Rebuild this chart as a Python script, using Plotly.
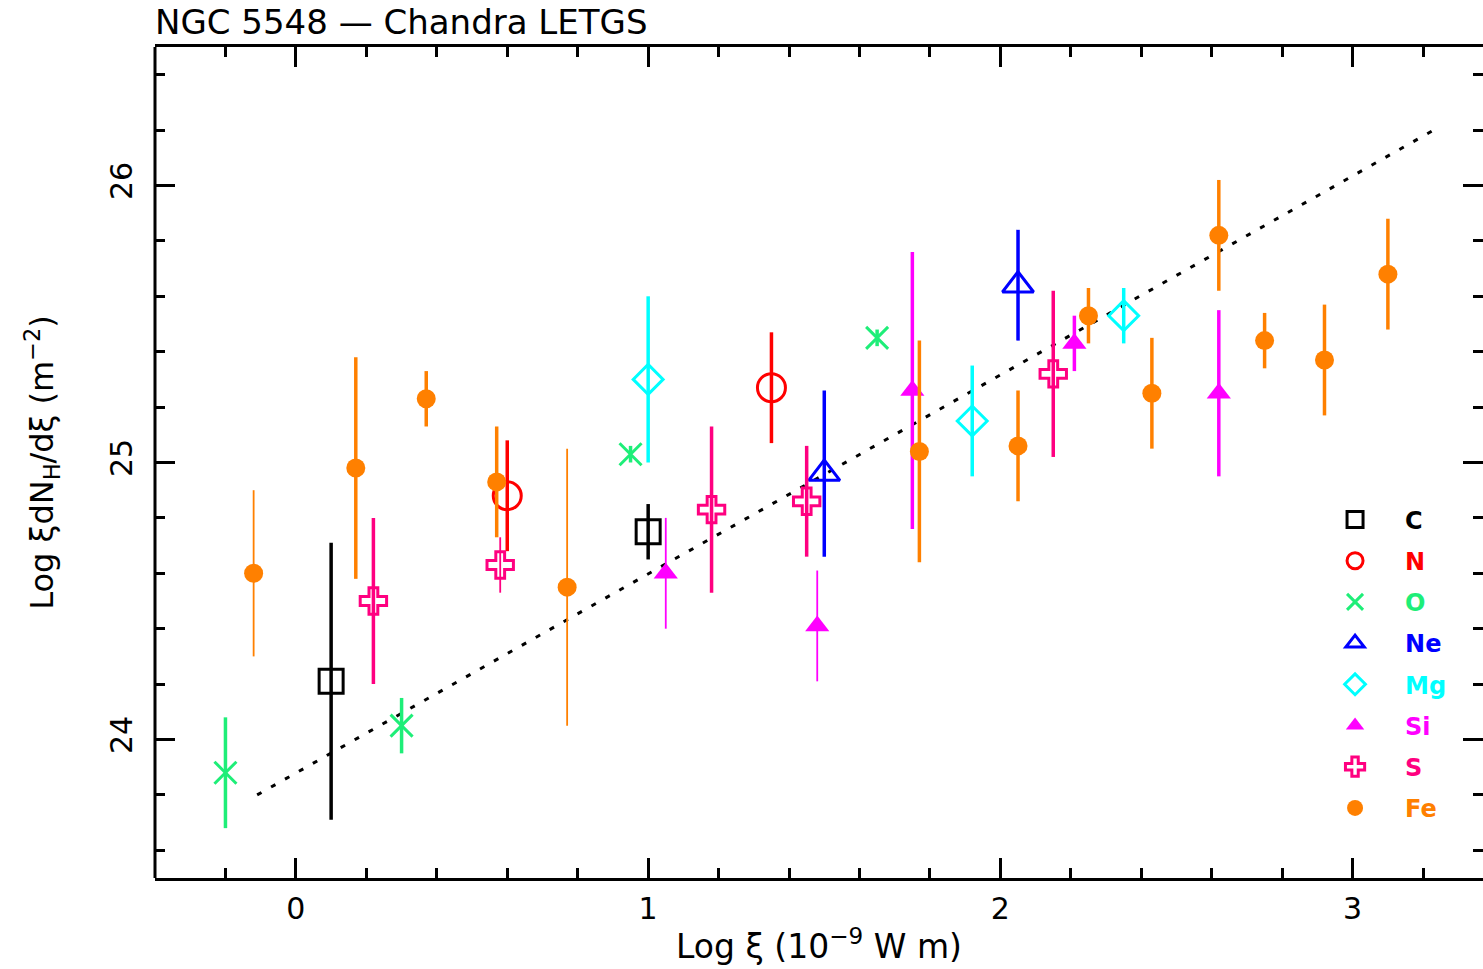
import plotly.graph_objects as go

# ---------------- data ----------------
C_X = [0.10, 1.00]
C_Y = [24.21, 24.75]
C_E = [0.50, 0.10]

N_X = [0.60, 1.35]
N_Y = [24.88, 25.27]
N_E = [0.20, 0.20]

O_X = [-0.20, 0.30, 0.95, 1.65]
O_Y = [23.88, 24.05, 25.03, 25.45]
O_E = [0.20, 0.10, 0.03, 0.03]

NE_X = [1.50, 2.05]
NE_Y = [24.96, 25.64]
NE_E = [0.30, 0.20]

MG_X = [1.00, 1.92, 2.35]
MG_Y = [25.30, 25.15, 25.53]
MG_E = [0.30, 0.20, 0.10]

SI_X = [1.05, 1.48, 1.75, 2.21, 2.62]
SI_Y = [24.60, 24.41, 25.26, 25.43, 25.25]
SI_E = [0.20, 0.20, 0.50, 0.10, 0.30]

S_X = [0.22, 0.58, 1.18, 1.45, 2.15]
S_Y = [24.50, 24.63, 24.83, 24.86, 25.32]
S_E = [0.30, 0.10, 0.30, 0.20, 0.30]

FE_X = [-0.12, 0.17, 0.37, 0.57, 0.77, 1.77, 2.05, 2.25, 2.43, 2.62, 2.75, 2.92, 3.10]
FE_Y = [24.60, 24.98, 25.23, 24.93, 24.55, 25.04, 25.06, 25.53, 25.25, 25.82, 25.44, 25.37, 25.68]
FE_E = [0.30, 0.40, 0.10, 0.20, 0.50, 0.40, 0.20, 0.10, 0.20, 0.20, 0.10, 0.20, 0.20]

LINE_X = [-0.11, 3.23]
LINE_Y = [23.80, 26.20]

X_TICKS = [0, 1, 2, 3]
Y_TICKS = [24, 25, 26]

TITLE = "NGC 5548 \u2014 Chandra LETGS"
X_TITLE = "Log \u03be (10<sup>\u22129</sup> W m)"
Y_TITLE = "Log \u03bedN<sub>H</sub>/d\u03be (m<sup>\u22122</sup>)"

# ---------------- styles ----------------
STYLE = {
    "C":  dict(color="#000000", symbol="square-open", size=24),
    "N":  dict(color="#FF0000", symbol="circle-open", size=28),
    "O":  dict(color="#1EEE78", symbol="x-thin-open", size=22),
    "Ne": dict(color="#0000FF", symbol="triangle-up-open", size=27),
    "Mg": dict(color="#00FFFF", symbol="diamond-open", size=23),
    "Si": dict(color="#FF00FF", symbol="triangle-up", size=21),
    "S":  dict(color="#FF0080", symbol="cross-open", size=22),
    "Fe": dict(color="#FF8000", symbol="circle", size=19),
}
THIN = {"Fe": [0, 4], "Si": [0, 1], "S": [1]}

SERIES = [
    ("C", C_X, C_Y, C_E),
    ("N", N_X, N_Y, N_E),
    ("O", O_X, O_Y, O_E),
    ("Ne", NE_X, NE_Y, NE_E),
    ("Mg", MG_X, MG_Y, MG_E),
    ("Si", SI_X, SI_Y, SI_E),
    ("S", S_X, S_Y, S_E),
    ("Fe", FE_X, FE_Y, FE_E),
]

FONT = "DejaVu Sans"

fig = go.Figure()

fig.add_trace(go.Scatter(
    x=LINE_X, y=LINE_Y, mode="lines",
    line=dict(color="black", width=3, dash="5px,11px"),
    showlegend=False, hoverinfo="skip",
))

for name, xs, ys, es in SERIES:
    st = STYLE[name]
    thin = THIN.get(name, [])
    groups = [
        ([i for i in range(len(xs)) if i not in thin], 3.5, True),
        (thin, 1.8, False),
    ]
    for idx, ew, show in groups:
        if not idx and not show:
            continue
        open_sym = st["symbol"].endswith("open")
        fig.add_trace(go.Scatter(
            x=[xs[i] for i in idx], y=[ys[i] for i in idx],
            mode="markers",
            name=f'<span style="color:{st["color"]};font-size:24px">{name}</span>',
            legendgroup=name,
            showlegend=show,
            marker=dict(
                symbol=st["symbol"], size=st["size"], color=st["color"],
                line=dict(color=st["color"], width=3 if open_sym else 0),
            ),
            error_y=dict(type="data", array=[es[i] for i in idx], visible=True,
                         color=st["color"], thickness=ew, width=0),
        ))

axis_common = dict(
    linecolor="black", linewidth=3, mirror="allticks",
    ticks="inside", ticklen=20, tickwidth=3, tickcolor="black",
    showgrid=False, zeroline=False,
    tickfont=dict(family=FONT, size=30, color="black"),
)

fig.update_xaxes(
    range=[-0.4, 3.37], tickmode="array", tickvals=X_TICKS, showline=True,
    minor=dict(dtick=0.2, tick0=0, ticks="inside", ticklen=10, tickwidth=3, tickcolor="black"),
    title=dict(text=X_TITLE, font=dict(family=FONT, size=33, color="black"), standoff=10),
    ticklabelstandoff=2,
    **axis_common,
)
fig.update_yaxes(
    range=[23.5, 26.5], tickmode="array", tickvals=Y_TICKS, tickangle=-90, showline=False,
    minor=dict(dtick=0.2, tick0=0, ticks="inside", ticklen=10, tickwidth=3, tickcolor="black"),
    title=dict(text=Y_TITLE, font=dict(family=FONT, size=32, color="black"), standoff=40),
    ticklabelstandoff=16,
    **axis_common,
)

fig.update_layout(
    width=1483, height=969,
    margin=dict(l=155, r=0, t=47, b=91),
    paper_bgcolor="white", plot_bgcolor="white",
    title=dict(text=TITLE, x=155 / 1483, xanchor="left", xref="container",
               y=1 - 22 / 969, yanchor="middle", yref="container",
               font=dict(family=FONT, size=34, color="black")),
    shapes=[dict(type="line", xref="paper", yref="paper", x0=0, x1=0, y0=0, y1=1,
                 line=dict(color="black", width=3), layer="above")],
    showlegend=True,
    legend=dict(
        x=0.866, y=0.458, xanchor="left", yanchor="top",
        bgcolor="rgba(0,0,0,0)", borderwidth=0,
        font=dict(family=FONT, size=24, weight="bold"),
        traceorder="grouped", tracegroupgap=7,
        itemwidth=90, itemsizing="trace",
    ),
)

fig.write_html("out.html")
